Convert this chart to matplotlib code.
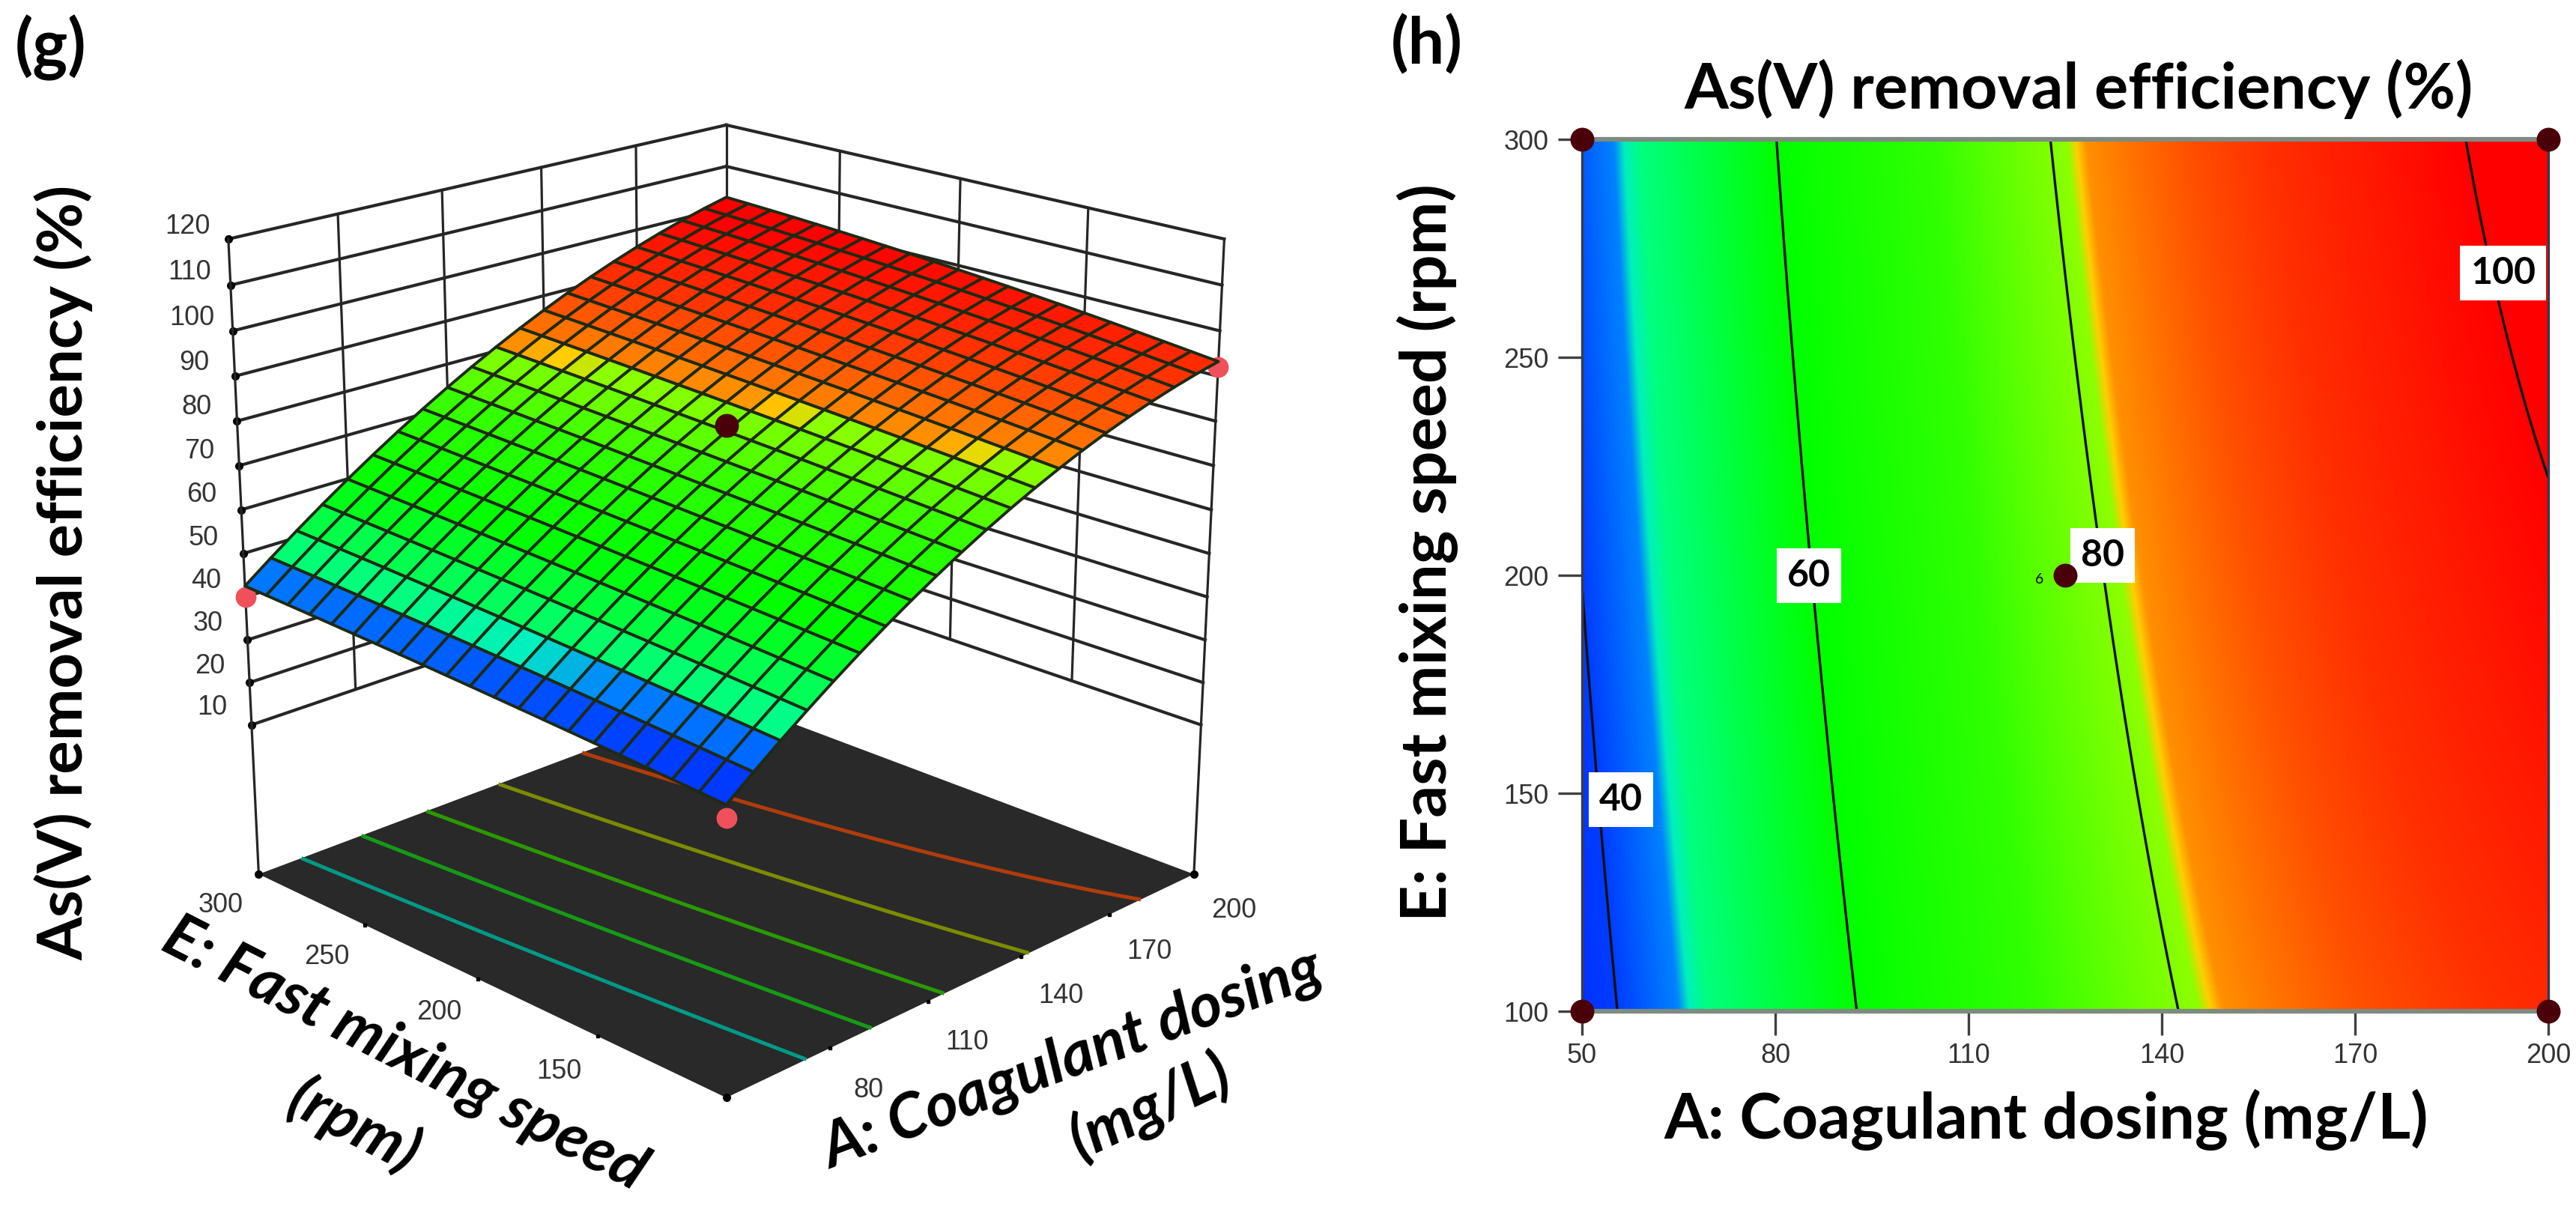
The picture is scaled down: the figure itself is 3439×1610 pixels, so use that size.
import numpy as np
import matplotlib
matplotlib.use('Agg')
import matplotlib.pyplot as plt
from matplotlib.colors import LinearSegmentedColormap, Normalize
from mpl_toolkits.mplot3d import proj3d

W, H = 3439, 1610

# Values
A_ticks = [50, 80, 110, 140, 170, 200]
E_ticks = [100, 150, 200, 250, 300]
A_show = [80, 110, 140, 170, 200]
E_show = [150, 200, 250, 300]
Z_ticks = [10, 20, 30, 40, 50, 60, 70, 80, 90, 100, 110, 120]
Z_floor = -26

eff_E100 = [37.0, 53.5, 67.1, 80.2, 87.5, 93.0]
eff_E150 = [38.5, 55.1, 69.4, 81.8, 89.9, 96.6]
eff_E200 = [40.0, 57.4, 71.5, 83.6, 92.0, 99.3]
eff_E250 = [41.0, 59.2, 73.4, 84.8, 93.6, 101.3]
eff_E300 = [42.0, 60.5, 75.2, 85.8, 95.5, 103.0]
eff = np.array([eff_E100, eff_E150, eff_E200, eff_E250, eff_E300])

# design points (A, E, response) in the 3D view
low_pts_A = [50, 200, 50]
low_pts_E = [300, 100, 100]
low_pts_Z = [40, 92, 34]
centre_pt = (125, 200, 79)

floor_levels = [50, 60, 70, 80, 90]
floor_colors = ['#009a86', '#169a16', '#2a9a00', '#7c8c00', '#b03c0c']
contour_levels = [40, 60, 80, 100]
label_A = [56, 85.2, 130.8, 193]
label_E = [148.6, 200, 204.5, 269.4]

# colour scale of the response, level -> colour
scale_levels = [30, 40, 45.5, 46.5, 48, 54, 60, 72, 81, 81.6, 82.2, 85, 88, 92, 97, 100, 110]
scale_colors = ['#001eff', '#003cff', '#0082ff', '#00f0c0', '#00ff80', '#00ff40', '#00ff00',
                '#30ff00', '#8cff00', '#ffd000', '#ff9000', '#ff7000', '#ff5000', '#ff3000',
                '#ff1400', '#ff0000', '#ff0000']
norm = Normalize(30, 110)
cmap = LinearSegmentedColormap.from_list(
    'rsm', [(norm(l), c) for l, c in zip(scale_levels, scale_colors)], N=2048)


def on_mesh(a, e):
    # smooth the read table with a quadratic (a response surface), for drawing on a finer mesh
    rows = np.array([np.polyval(np.polyfit(A_ticks, r, 2), a) for r in eff])
    return np.array([np.polyval(np.polyfit(E_ticks, rows[:, j], 2), e) for j in range(len(a))]).T


plt.rcParams['font.family'] = ['Lato', 'DejaVu Sans']
fig = plt.figure(figsize=(W / 100, H / 100), dpi=100, facecolor='white')
line_c = '#262626'
tick_font = 'Liberation Sans'

# ---- (g) surface ----
ax = fig.add_axes([186 / W, 70 / H, 1526 / W, 1526 / H], projection='3d', computed_zorder=False)
ax.set_box_aspect((1, 1, 0.99))
ax.set_proj_type('persp', focal_length=0.594)
ax.view_init(elev=20, azim=-135)
ax.set_xlim(50, 200, view_margin=0)
ax.set_ylim(100, 300, view_margin=0)
ax.set_zlim(Z_floor, 120, view_margin=0)
ax.set_axis_off()


def tick_text(x, y, z, s):
    # 3D point -> 2D data position of the axes
    xs, ys, _ = proj3d.proj_transform(x, y, z, ax.get_proj())
    ax.text2D(xs, ys, s, transform=ax.transData, ha='center', va='center', fontsize=26,
              family=tick_font, color='#333333', zorder=3)


# walls
for z in Z_ticks:
    ax.plot([50, 200], [300, 300], [z, z], color=line_c, lw=3.0, zorder=1)
    ax.plot([200, 200], [100, 300], [z, z], color=line_c, lw=3.0, zorder=1)
    ax.plot([50], [300], [z], 'o', color='black', ms=7, zorder=1)
    tick_text(50, 319, z, str(z))
for a in A_ticks[1:-1]:
    ax.plot([a, a], [300, 300], [10, 120], color=line_c, lw=2.3, zorder=1)
for e in E_ticks[1:-1]:
    ax.plot([200, 200], [e, e], [10, 120], color=line_c, lw=2.3, zorder=1)
ax.plot([200, 200], [300, 300], [10, 120], color=line_c, lw=2.3, zorder=1)
ax.plot([50, 50], [300, 300], [Z_floor, 120], color=line_c, lw=2.3, zorder=1)
ax.plot([200, 200], [100, 100], [Z_floor, 120], color=line_c, lw=2.3, zorder=1)

# floor
ax.plot_surface(np.array([[50, 200], [50, 200]]), np.array([[100, 100], [300, 300]]),
                np.full((2, 2), float(Z_floor)), color='#292929', shade=False, zorder=2,
                linewidth=0)
A_fine = np.linspace(50, 200, 151)
E_fine = np.linspace(100, 300, 201)
Z_fine = on_mesh(A_fine, E_fine)
AA_fine, EE_fine = np.meshgrid(A_fine, E_fine)
ax.contour(AA_fine, EE_fine, Z_fine, levels=floor_levels, colors=floor_colors, linewidths=3.6,
           zdir='z', offset=Z_floor, zorder=3)
ax.plot([50, 200, 50], [300, 100, 100], [Z_floor] * 3, 'o', color='black', ms=7, zorder=3, ls='none')
for e in E_show:
    tick_text(39, e, Z_floor - 4, str(e))
    if e != 300:
        ax.plot([50], [e], [Z_floor], 's', color='black', ms=3.5, zorder=3)
for a in A_show:
    tick_text(a - 3.5, 81, Z_floor - 3, str(a))
    if a != 200:
        ax.plot([a], [100], [Z_floor], 's', color='black', ms=3.5, zorder=3)

# design points under the surface, then the surface
ax.plot(low_pts_A, low_pts_E, low_pts_Z, 'o', color='#f0505c', ms=19, ls='none', zorder=4)
A_mesh = np.linspace(50, 200, 21)
E_mesh = np.linspace(100, 300, 21)
Z_mesh = on_mesh(A_mesh, E_mesh)
AA, EE = np.meshgrid(A_mesh, E_mesh)
cells = (Z_mesh[:-1, :-1] + Z_mesh[1:, :-1] + Z_mesh[:-1, 1:] + Z_mesh[1:, 1:]) / 4
ax.plot_surface(AA, EE, Z_mesh, rstride=1, cstride=1, facecolors=cmap(norm(cells)), shade=False,
                edgecolor='#1e2a14', linewidth=2.8, zorder=5, antialiased=True)
ax.plot([centre_pt[0]], [centre_pt[1]], [centre_pt[2]], 'o', color='#4a0008', ms=22, zorder=6)

fig.text(68 / W, 1 - 64 / H, '(g)', fontsize=64, weight='bold', ha='center', va='center')
fig.text(85 / W, 1 - 764 / H, 'As(V) removal efficiency (%)', fontsize=60, weight='bold',
         rotation=90, ha='center', va='center')
fig.text(540 / W, 1 - 1408 / H, 'E: Fast mixing speed', fontsize=60, weight='bold', style='italic',
         rotation=-27, ha='center', va='center', rotation_mode='anchor')
fig.text(472 / W, 1 - 1503 / H, '(rpm)', fontsize=60, weight='bold', style='italic',
         rotation=-27, ha='center', va='center', rotation_mode='anchor')
fig.text(1432 / W, 1 - 1415 / H, 'A: Coagulant dosing', fontsize=60, weight='bold', style='italic',
         rotation=20.6, ha='center', va='center', rotation_mode='anchor')
fig.text(1535 / W, 1 - 1478 / H, '(mg/L)', fontsize=60, weight='bold', style='italic',
         rotation=25, ha='center', va='center', rotation_mode='anchor')

# ---- (h) contour map ----
ax2 = fig.add_axes([2112 / W, (H - 1350) / H, 1290 / W, 1164 / H])
A_img = np.linspace(50, 200, 601)
E_img = np.linspace(100, 300, 401)
Z_img = on_mesh(A_img, E_img)
ax2.pcolormesh(A_img, E_img, Z_img, cmap=cmap, norm=norm, shading='gouraud', rasterized=True)
ax2.contour(A_img, E_img, Z_img, levels=contour_levels, colors='#101010', linewidths=2.4)
ax2.set_xlim(50, 200)
ax2.set_ylim(100, 300)
ax2.set_xticks(A_ticks)
ax2.set_yticks([100] + E_show)
ax2.tick_params(length=23, width=2.4, color='#404040', labelsize=26, pad=7, labelcolor='#333333')
ax2.tick_params(axis='y', pad=9)
for t in ax2.get_xticklabels() + ax2.get_yticklabels():
    t.set_family(tick_font)
for s in ['top', 'bottom']:
    ax2.spines[s].set_color('#7f8a80')
    ax2.spines[s].set_linewidth(4.5)
for s in ['left', 'right']:
    ax2.spines[s].set_color('#3a3a48')
    ax2.spines[s].set_linewidth(2.4)

for lev, a, e in zip(contour_levels, label_A, label_E):
    ax2.text(a, e, str(lev), fontsize=36, weight='bold', ha='center', va='center', zorder=6,
             bbox=dict(facecolor='white', edgecolor='none', pad=10))
# corner and centre design points
ax2.plot([50, 50, 200, 200, 125], [100, 300, 100, 300, 200], 'o', color='#4a0008', ms=22,
         ls='none', clip_on=False, zorder=7)
ax2.text(121, 199, '6', fontsize=14, ha='center', va='center', zorder=7)

fig.text(1905 / W, 1 - 60 / H, '(h)', fontsize=62, weight='bold', ha='center', va='center')
fig.text(2775 / W, 1 - 119 / H, 'As(V) removal efficiency (%)', fontsize=61, weight='bold',
         ha='center', va='center')
fig.text(2732 / W, 1 - 1495 / H, 'A: Coagulant dosing (mg/L)', fontsize=61, weight='bold',
         ha='center', va='center')
fig.text(1906 / W, 1 - 738 / H, 'E: Fast mixing speed (rpm)', fontsize=61, weight='bold',
         rotation=90, ha='center', va='center')

fig.savefig('out.png', dpi=100)
